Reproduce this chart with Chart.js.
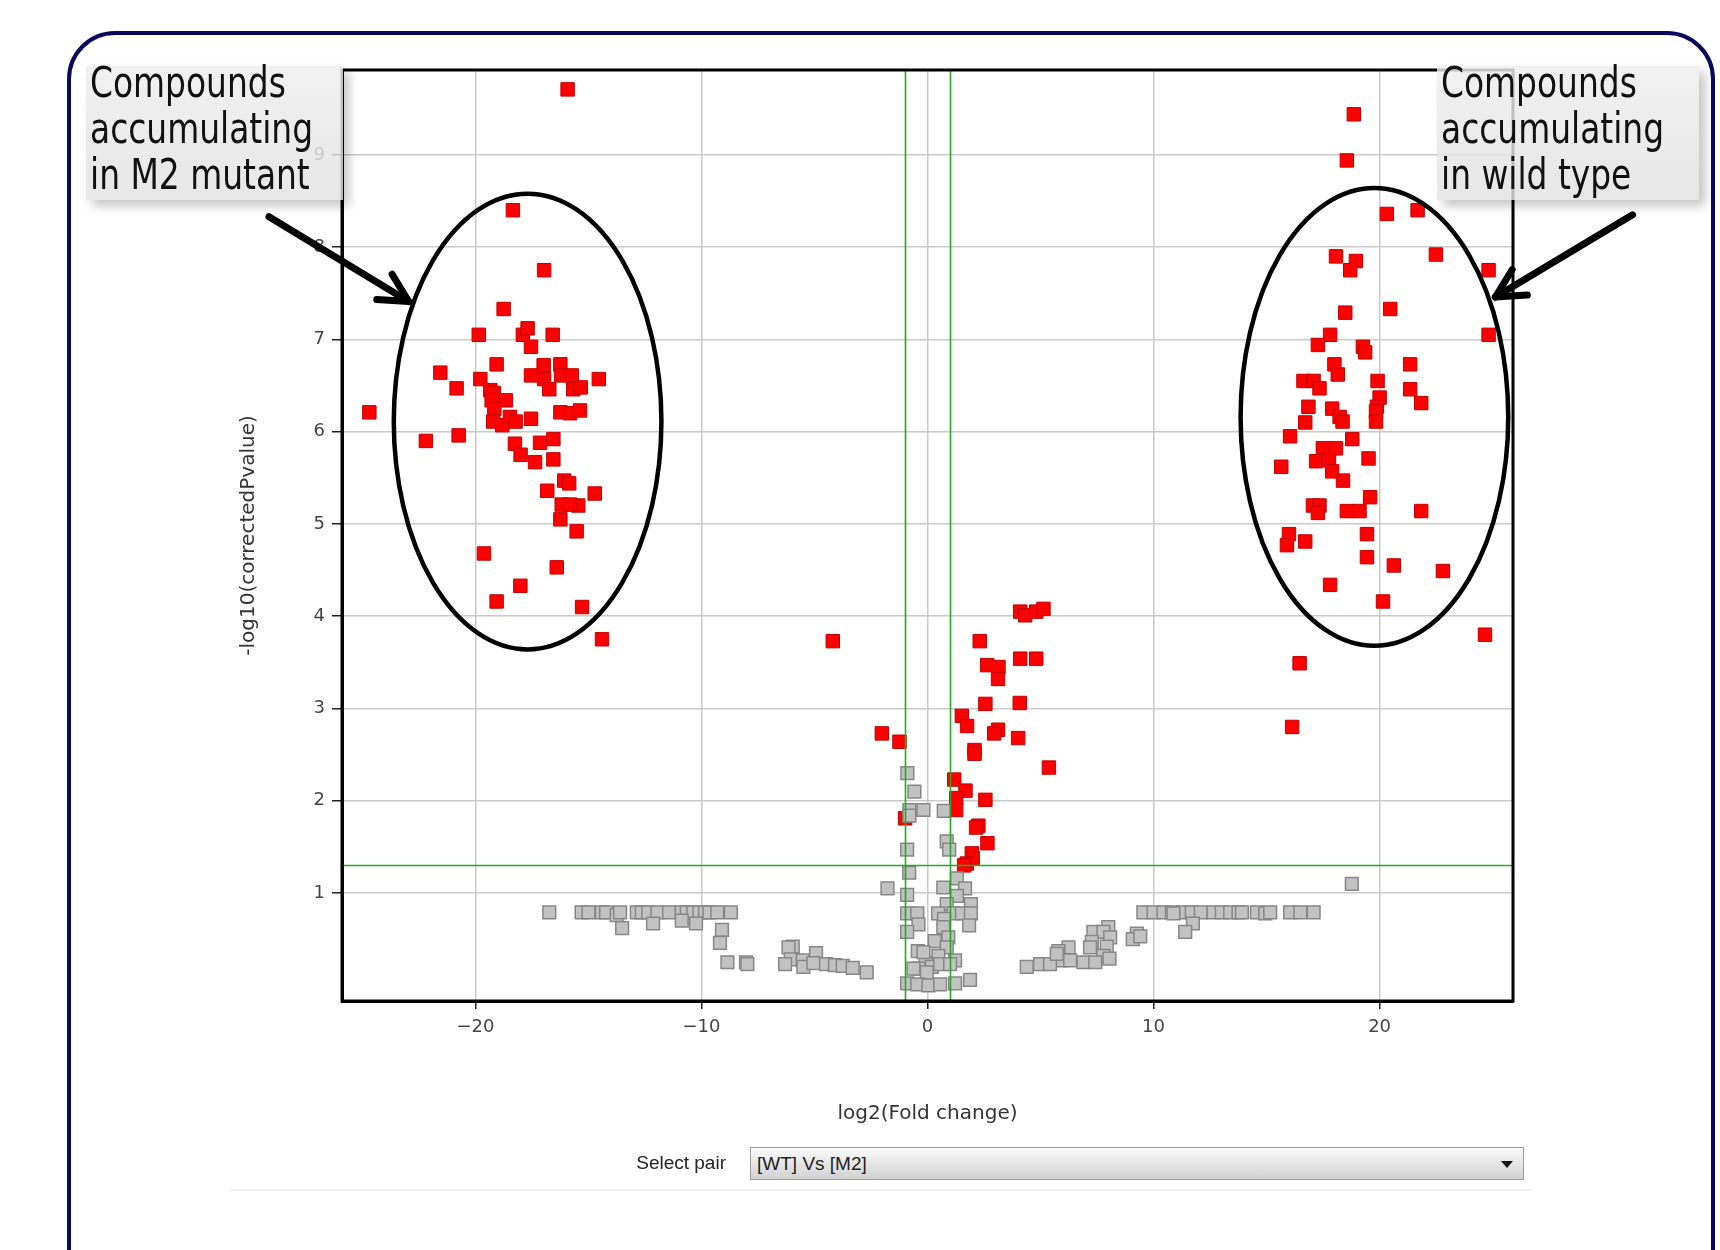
<!DOCTYPE html>
<html>
<head>
<meta charset="utf-8">
<title>Volcano plot WT vs M2</title>
<script src="https://cdn.jsdelivr.net/npm/chart.js@4.4.1/dist/chart.umd.min.js"></script>
<style>
    html, body { margin: 0; padding: 0; background: #fff; }
    #page { position: relative; width: 1720px; height: 1250px; overflow: hidden; }
    #frame {
        position: absolute; left: 67px; top: 31px; width: 1648px; height: 1300px;
        border: 4px solid #0a0a5c; border-radius: 48px; box-sizing: border-box;
    }
    #plot { position: absolute; left: 0; top: 0; }
    .box {
        position: absolute; top: 66px; height: 134px;
        background: linear-gradient(#eeeeee, #e2e2e2);
        opacity: 0.82;
        box-shadow: 6px 6px 10px rgba(0, 0, 0, 0.28);
    }
    .callout {
        position: absolute; top: 60px; margin: 0;
        font-family: "DejaVu Sans Condensed", "Liberation Sans Narrow", sans-serif;
        font-size: 42px; line-height: 46px; color: #111; white-space: nowrap;
        transform: scaleX(0.87); transform-origin: left top;
    }
    .ui { position: absolute; font-family: "Liberation Sans", Arial, sans-serif; font-size: 19px; color: #222; }
    #combo {
        left: 750px; top: 1147px; width: 774px; height: 33px; box-sizing: border-box;
        border: 1px solid #9c9c9c; background: linear-gradient(#fafafa, #d2d2d2);
        line-height: 31px; padding-left: 6px;
    }
    #combo .arrow {
        position: absolute; right: 10px; top: 13px; width: 0; height: 0;
        border-left: 6px solid transparent; border-right: 6px solid transparent; border-top: 7px solid #111;
    }
    #rule { position: absolute; left: 230px; top: 1189px; width: 1302px; height: 2px; background: #f0f0f0; }
</style>
</head>
<body>
<div id="page">
    <div id="frame"></div>
    <canvas id="plot" width="1720" height="1250"></canvas>
    <div class="box" style="left:86px; width:257px;"></div>
    <div class="callout" style="left:90px;">Compounds<br>accumulating<br>in M2 mutant</div>
    <div class="box" style="left:1437px; width:262px;"></div>
    <div class="callout" style="left:1441px;">Compounds<br>accumulating<br>in wild type</div>
    <div class="ui" style="left:560px; width:166px; top:1152px; text-align:right;">Select pair</div>
    <div class="ui" id="combo">[WT] Vs [M2]<span class="arrow"></span></div>
    <div id="rule"></div>
</div>
<script>
(function() {
    // --- дані: log2(fold change), -log10(corrected p) ---
    const upInMutant = [
        [-15.92, 9.71], [-18.34, 8.40], [-16.96, 7.75], [-18.75, 7.33], [-19.85, 7.05], [-17.90, 7.05],
        [-17.69, 7.12], [-17.54, 6.92], [-16.58, 7.05], [-19.06, 6.73], [-21.55, 6.64], [-20.83, 6.47],
        [-24.69, 6.21], [-19.78, 6.57], [-16.98, 6.72], [-16.24, 6.73], [-17.54, 6.61], [-16.96, 6.57],
        [-16.21, 6.61], [-15.74, 6.61], [-14.54, 6.57], [-16.73, 6.46], [-15.67, 6.46], [-15.34, 6.48],
        [-19.34, 6.45], [-19.19, 6.42], [-19.28, 6.34], [-18.65, 6.34], [-19.16, 6.25], [-19.21, 6.11],
        [-18.81, 6.07], [-18.47, 6.16], [-18.22, 6.11], [-17.54, 6.14], [-16.24, 6.21], [-15.81, 6.20],
        [-15.37, 6.23], [-22.19, 5.90], [-20.74, 5.96], [-18.25, 5.87], [-17.14, 5.88], [-16.55, 5.92],
        [-18.00, 5.75], [-17.36, 5.67], [-16.55, 5.70], [-16.07, 5.47], [-15.85, 5.44], [-16.82, 5.36],
        [-14.72, 5.33], [-16.18, 5.21], [-15.45, 5.20], [-15.81, 5.21], [-16.24, 5.05], [-15.52, 4.92],
        [-19.62, 4.68], [-16.40, 4.53], [-18.01, 4.33], [-19.06, 4.16], [-15.28, 4.10], [-14.40, 3.75]
    ];
    const nearCentre = [
        [-4.19, 3.73], [4.10, 4.05], [4.32, 4.01], [4.81, 4.05], [5.13, 4.08], [2.31, 3.73], [2.64, 3.47],
        [3.14, 3.45], [3.12, 3.32], [4.10, 3.54], [4.81, 3.54], [2.56, 3.05], [4.08, 3.06], [1.52, 2.92],
        [1.75, 2.81], [-2.02, 2.73], [-1.24, 2.64], [3.12, 2.77], [2.95, 2.73], [4.01, 2.68], [2.08, 2.55],
        [2.08, 2.51], [5.37, 2.36], [1.18, 2.23], [1.68, 2.11], [1.27, 2.03], [2.56, 2.01], [1.27, 1.90],
        [-0.99, 1.81], [2.25, 1.73], [2.15, 1.71], [2.65, 1.54], [1.96, 1.43], [2.00, 1.38], [1.74, 1.32],
        [1.62, 1.30]
    ];
    const upInWildType = [
        [18.86, 9.44], [18.55, 8.94], [20.32, 8.36], [21.68, 8.40], [22.49, 7.92], [18.07, 7.90], [18.95, 7.85],
        [18.70, 7.75], [24.82, 7.75], [18.48, 7.29], [20.47, 7.33], [17.81, 7.05], [24.82, 7.05], [17.27, 6.94],
        [19.26, 6.92], [19.36, 6.86], [18.00, 6.73], [21.35, 6.73], [18.15, 6.62], [16.63, 6.55], [17.08, 6.55],
        [17.34, 6.47], [19.91, 6.55], [21.35, 6.46], [21.84, 6.31], [20.00, 6.37], [19.88, 6.27], [19.84, 6.22],
        [19.84, 6.11], [16.85, 6.27], [17.90, 6.25], [18.23, 6.16], [18.36, 6.11], [16.71, 6.10], [16.04, 5.95],
        [18.79, 5.92], [17.49, 5.82], [18.07, 5.82], [19.51, 5.71], [15.65, 5.62], [17.19, 5.68], [17.76, 5.69],
        [17.90, 5.57], [18.38, 5.47], [19.58, 5.29], [17.05, 5.20], [17.34, 5.20], [17.27, 5.12], [18.55, 5.14],
        [19.11, 5.14], [21.84, 5.14], [15.99, 4.89], [15.90, 4.77], [16.71, 4.81], [19.44, 4.89], [19.44, 4.64],
        [20.63, 4.55], [22.80, 4.49], [17.81, 4.34], [20.15, 4.16], [24.66, 3.80], [16.46, 3.49], [16.13, 2.80]
    ];
    const notSignificant = [
        // центральна колонка
        [-0.89, 2.30], [-0.58, 2.10], [-0.18, 1.90], [-0.80, 1.90], [0.72, 1.89], [-0.80, 1.84], [0.85, 1.56],
        [0.96, 1.47], [-0.90, 1.47], [-0.81, 1.22], [1.30, 1.16], [-1.77, 1.05], [0.70, 1.06], [1.66, 1.05],
        [-0.90, 0.98], [1.30, 0.97], [0.85, 0.88], [1.92, 0.88], [-0.90, 0.78], [-0.45, 0.78], [0.47, 0.78],
        [1.15, 0.78], [1.52, 0.78], [1.92, 0.78], [0.73, 0.72], [-0.40, 0.66], [1.84, 0.65], [-0.90, 0.58],
        [0.70, 0.63], [0.92, 0.52], [0.32, 0.48], [0.85, 0.41], [-0.43, 0.37], [0.48, 0.32], [1.22, 0.27],
        [-0.08, 0.24], [-0.40, 0.18], [0.19, 0.20], [0.56, 0.23], [1.00, 0.23], [-0.03, 0.14], [-0.90, 0.02],
        [-0.45, 0.01], [0.04, 0.00], [0.56, 0.01], [1.22, 0.02], [1.88, 0.06], [-0.62, 0.18], [-0.18, 0.36],
        // ліва смуга
        [-16.73, 0.79], [-15.30, 0.79], [-15.00, 0.79], [-14.41, 0.79], [-14.22, 0.79], [-13.75, 0.76],
        [-13.60, 0.79], [-12.86, 0.79], [-12.64, 0.79], [-12.35, 0.79], [-11.95, 0.79], [-11.43, 0.79],
        [-10.87, 0.79], [-10.65, 0.79], [-10.36, 0.79], [-10.09, 0.79], [-9.84, 0.79], [-9.65, 0.79],
        [-9.30, 0.79], [-8.70, 0.79], [-13.51, 0.62], [-12.14, 0.67], [-10.87, 0.70], [-10.24, 0.67],
        [-9.09, 0.60], [-9.18, 0.46], [-8.85, 0.25], [-8.03, 0.25], [-7.97, 0.23], [-5.96, 0.42], [-6.15, 0.41],
        [-6.05, 0.28], [-6.30, 0.23], [-5.52, 0.27], [-5.49, 0.20], [-4.93, 0.35], [-5.05, 0.24], [-4.49, 0.23],
        [-4.09, 0.22], [-3.75, 0.21], [-3.31, 0.19], [-2.69, 0.14],
        // права смуга
        [18.77, 1.10], [9.55, 0.79], [10.00, 0.79], [10.44, 0.79], [10.81, 0.79], [11.30, 0.79], [11.69, 0.79],
        [12.09, 0.79], [12.65, 0.79], [13.02, 0.79], [13.39, 0.79], [13.76, 0.79], [13.91, 0.79], [14.57, 0.79],
        [14.94, 0.78], [15.16, 0.79], [16.04, 0.79], [16.49, 0.79], [17.08, 0.79], [10.88, 0.78], [11.74, 0.67],
        [11.40, 0.58], [9.26, 0.56], [9.08, 0.50], [9.41, 0.53], [8.00, 0.63], [7.34, 0.58], [7.78, 0.58],
        [8.08, 0.52], [7.27, 0.47], [7.19, 0.41], [7.93, 0.42], [6.24, 0.41], [5.79, 0.37], [7.78, 0.32],
        [8.05, 0.29], [5.87, 0.27], [6.31, 0.27], [6.90, 0.25], [7.42, 0.25], [4.98, 0.23], [5.42, 0.23],
        [4.39, 0.20], [5.72, 0.34]
    ];

    const xTicks = [-20, -10, 0, 10, 20];
    const yTicks = [1, 2, 3, 4, 5, 6, 7, 8, 9];
    const foldCutoffs = [-1, 1];
    const pCutoffs = [1.3];

    // --- анотації (в одиницях осей) ---
    const ELLIPSES = [
        { cx: -17.69, cy: 6.11, rx: 5.92, ry: 2.47 },
        { cx: 19.77, cy: 6.16, rx: 5.92, ry: 2.48 }
    ];
    const ARROWS = [
        { from: [-29.13, 8.33], to: [-22.95, 7.41] },
        { from: [31.19, 8.35], to: [25.12, 7.46] }
    ];

    const toPts = arr => arr.map(p => ({ x: p[0], y: p[1] }));
    const RED = { backgroundColor: '#ff0000', borderColor: '#c40000', borderWidth: 1, pointStyle: 'rect', pointRadius: 9.5 };

    const overlayPlugin = {
        id: 'overlay',
        afterDatasetsDraw(chart) {
            const { ctx, chartArea: a, scales: { x, y } } = chart;
            ctx.save();

            // порогові лінії
            ctx.strokeStyle = '#22aa22';
            ctx.lineWidth = 1.6;
            foldCutoffs.forEach(v => {
                const px = Math.round(x.getPixelForValue(v)) + 0.5;
                ctx.beginPath(); ctx.moveTo(px, a.top); ctx.lineTo(px, a.bottom); ctx.stroke();
            });
            pCutoffs.forEach(v => {
                const py = Math.round(y.getPixelForValue(v)) + 0.5;
                ctx.beginPath(); ctx.moveTo(a.left, py); ctx.lineTo(a.right, py); ctx.stroke();
            });

            // рамка області
            ctx.strokeStyle = '#000';
            ctx.lineWidth = 3;
            ctx.strokeRect(a.left, a.top, a.right - a.left, a.bottom - a.top);

            // еліпси
            ctx.lineWidth = 4.5;
            ELLIPSES.forEach(e => {
                const cx = x.getPixelForValue(e.cx), cy = y.getPixelForValue(e.cy);
                const rx = Math.abs(x.getPixelForValue(e.cx + e.rx) - cx);
                const ry = Math.abs(y.getPixelForValue(e.cy + e.ry) - cy);
                ctx.beginPath(); ctx.ellipse(cx, cy, rx, ry, 0, 0, Math.PI * 2); ctx.stroke();
            });

            // стрілки
            ctx.lineWidth = 7;
            ctx.lineCap = 'round';
            ctx.lineJoin = 'round';
            ARROWS.forEach(ar => {
                const x0 = x.getPixelForValue(ar.from[0]), y0 = y.getPixelForValue(ar.from[1]);
                const x1 = x.getPixelForValue(ar.to[0]), y1 = y.getPixelForValue(ar.to[1]);
                const ang = Math.atan2(y0 - y1, x0 - x1);
                const len = 32, spread = 0.48;
                ctx.beginPath(); ctx.moveTo(x0, y0); ctx.lineTo(x1, y1); ctx.stroke();
                ctx.beginPath();
                ctx.moveTo(x1 + len * Math.cos(ang - spread), y1 + len * Math.sin(ang - spread));
                ctx.lineTo(x1, y1);
                ctx.lineTo(x1 + len * Math.cos(ang + spread), y1 + len * Math.sin(ang + spread));
                ctx.stroke();
            });
            ctx.restore();
        }
    };

    const tickFont = { family: 'DejaVu Sans', size: 18 };
    const titleFont = { family: 'DejaVu Sans', size: 20 };

    new Chart(document.getElementById('plot'), {
        type: 'scatter',
        data: {
            datasets: [
                { label: 'n.s.', data: toPts(notSignificant), backgroundColor: '#c2c2c2', borderColor: '#878787',
                  borderWidth: 1.5, pointStyle: 'rect', pointRadius: 9 },
                Object.assign({ label: 'mutant', data: toPts(upInMutant) }, RED),
                Object.assign({ label: 'centre', data: toPts(nearCentre) }, RED),
                Object.assign({ label: 'wild type', data: toPts(upInWildType) }, RED)
            ]
        },
        options: {
            responsive: false,
            animation: false,
            events: [],
            devicePixelRatio: 1,
            layout: { padding: { left: 230, top: 70, right: 207, bottom: 124 } },
            plugins: { legend: { display: false }, tooltip: { enabled: false } },
            scales: {
                x: {
                    type: 'linear', min: -25.9, max: 25.9,
                    afterBuildTicks: s => { s.ticks = xTicks.map(v => ({ value: v })); },
                    afterFit: s => { s.height = 125; },
                    ticks: { font: tickFont, color: '#444', padding: 8, maxRotation: 0,
                             callback: v => String(v).replace('-', '\u2212') },
                    grid: { color: '#cacaca', lineWidth: 1.5, tickColor: '#222', tickLength: 8 },
                    border: { color: '#000', width: 3 },
                    title: { display: true, text: 'log2(Fold change)', font: titleFont, color: '#333', padding: 0 }
                },
                y: {
                    type: 'linear', min: -0.17, max: 9.92,
                    afterBuildTicks: s => { s.ticks = yTicks.map(v => ({ value: v })); },
                    afterFit: s => { s.width = 112; },
                    ticks: { font: tickFont, color: '#444', padding: 7 },
                    grid: { color: '#cacaca', lineWidth: 1.5, tickColor: '#222', tickLength: 10 },
                    border: { color: '#000', width: 3 },
                    title: { display: true, text: '-log10(correctedPvalue)', font: titleFont, color: '#333',
                             padding: { top: 7, bottom: 0 } }
                }
            }
        },
        plugins: [overlayPlugin]
    });
})();
</script>
</body>
</html>
